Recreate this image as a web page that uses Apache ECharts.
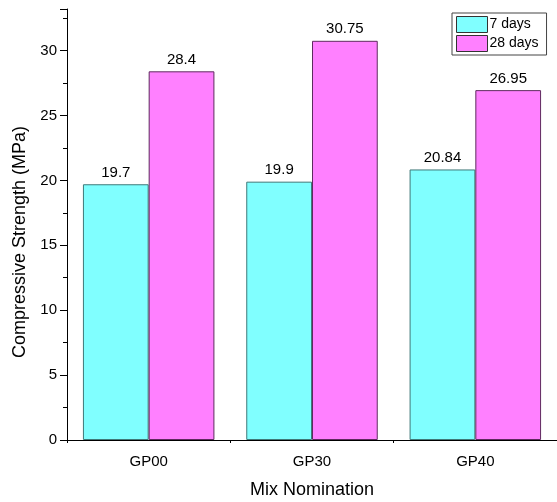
<!DOCTYPE html>
<html>
<head>
<meta charset="utf-8">
<script src="https://cdn.jsdelivr.net/npm/echarts@6/dist/echarts.min.js"></script>
<style>html,body{margin:0;padding:0;background:#fff;}#c{width:557px;height:502px;}</style>
</head>
<body>
<div id="c"></div>
<script>
const categories = ['GP00', 'GP30', 'GP40'];
const days7 = [19.7, 19.9, 20.84];
const days28 = [28.4, 30.75, 26.95];
const seriesNames = ['7 days', '28 days'];
const yTicks = [0, 5, 10, 15, 20, 25, 30];
const xTitle = 'Mix Nomination';
const yTitle = 'Compressive Strength (MPa)';

const FONT = 'Liberation Sans, Arial, sans-serif';
const chart = echarts.init(document.getElementById('c'));
chart.setOption({
  animation: false,
  textStyle: { fontFamily: FONT },
  grid: { left: 67, right: -2, top: 9, bottom: 62, containLabel: false },
  legend: {
    orient: 'vertical',
    left: 452, top: 13,
    itemWidth: 31, itemHeight: 16, itemGap: 2,
    padding: [3, 8, 3, 4],
    borderColor: '#444', borderWidth: 1,
    icon: 'rect',
    itemStyle: { borderColor: '#333', borderWidth: 1 },
    textStyle: { fontSize: 14, color: '#000', fontFamily: FONT, padding: [0, 0, 0, -3] },
    data: seriesNames
  },
  graphic: [{
    type: 'text',
    x: 20, y: 242,
    rotation: Math.PI / 2,
    style: { text: yTitle, font: '18px ' + FONT, fill: '#000', align: 'center', verticalAlign: 'middle' }
  }, {
    type: 'text',
    x: 312, y: 490,
    style: { text: xTitle, font: '18px ' + FONT, fill: '#000', align: 'center', verticalAlign: 'middle' }
  }],
  xAxis: [{
    type: 'category',
    data: categories,
    axisLine: { lineStyle: { color: '#000', width: 1 } },
    axisTick: { alignWithLabel: true, length: 7, lineStyle: { color: '#000' } },
    axisLabel: { fontSize: 15, color: '#000', margin: 14, fontFamily: FONT }
  }, {
    type: 'category',
    data: categories,
    position: 'bottom',
    axisLine: { show: false },
    axisTick: { show: true, length: 3, lineStyle: { color: '#000' } },
    axisLabel: { show: false }
  }],
  yAxis: {
    type: 'value',
    min: 0, max: 33.2, interval: 5,
    axisLine: { show: true, lineStyle: { color: '#000', width: 1 } },
    axisTick: { show: true, length: 7, lineStyle: { color: '#000' } },
    minorTick: { show: true, splitNumber: 2, length: 4, lineStyle: { color: '#000' } },
    splitLine: { show: false },
    axisLabel: {
      fontSize: 15, color: '#000', margin: 10, fontFamily: FONT,
      formatter: v => (yTicks.indexOf(v) >= 0 ? String(v) : '')
    }
  },
  series: [{
    name: seriesNames[0],
    type: 'bar',
    data: days7,
    barGap: '0%',
    barCategoryGap: '19.5%',
    itemStyle: { color: '#80FFFF', borderColor: '#3f7878', borderWidth: 1 },
    label: { show: true, position: 'top', distance: 4, fontSize: 15, color: '#000', fontFamily: FONT }
  }, {
    name: seriesNames[1],
    type: 'bar',
    data: days28,
    barGap: '0%',
    barCategoryGap: '19.5%',
    itemStyle: { color: '#FF80FF', borderColor: '#5f2a5f', borderWidth: 1 },
    label: { show: true, position: 'top', distance: 4, fontSize: 15, color: '#000', fontFamily: FONT }
  }]
});
</script>
</body>
</html>
